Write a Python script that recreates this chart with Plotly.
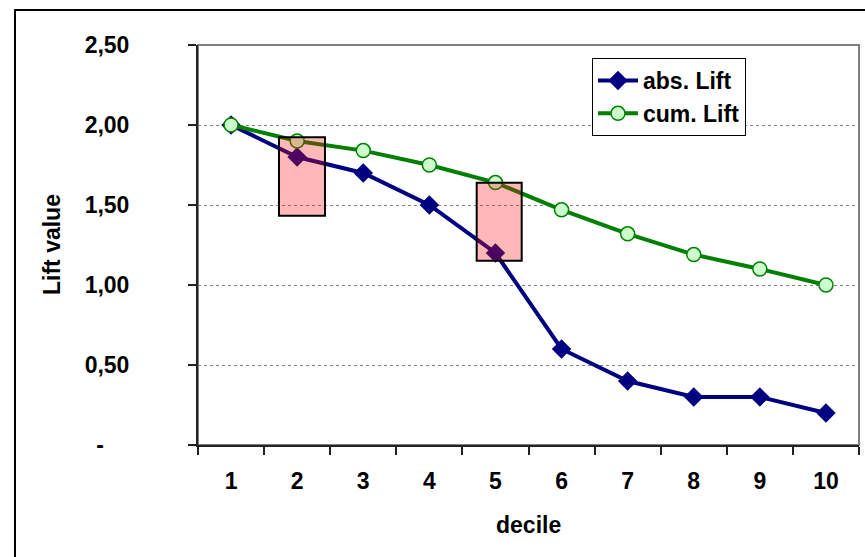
import plotly.graph_objects as go

deciles = ["1", "2", "3", "4", "5", "6", "7", "8", "9", "10"]
abs_lift = [2.00, 1.80, 1.70, 1.50, 1.20, 0.60, 0.40, 0.30, 0.30, 0.20]
cum_lift = [2.00, 1.90, 1.84, 1.75, 1.64, 1.47, 1.32, 1.19, 1.10, 1.00]
y_tickvals = [0, 0.5, 1.0, 1.5, 2.0, 2.5]
y_ticktext = ["-\u00a0\u00a0\u00a0\u00a0", "0,50", "1,00", "1,50", "2,00", "2,50"]

# highlight boxes (category-index x range, value y range)
box_x0 = [0.725, 3.716]
box_x1 = [1.421, 4.397]
box_y0 = [1.433, 1.152]
box_y1 = [1.923, 1.639]

FONT = "Arial, Liberation Sans, sans-serif"
FS = 23

fig = go.Figure()
fig.add_trace(go.Scatter(
    x=deciles, y=abs_lift, name="abs. Lift", mode="lines+markers",
    line=dict(color="#000080", width=4),
    marker=dict(symbol="diamond", size=15, color="#000080"),
))
fig.add_trace(go.Scatter(
    x=deciles, y=cum_lift, name="cum. Lift", mode="lines+markers",
    line=dict(color="#008000", width=4),
    marker=dict(symbol="circle", size=14, color="#CCFFCC",
                line=dict(color="#008000", width=1.5)),
))

shapes = []
# plot area border (grey)
shapes.append(dict(type="rect", xref="paper", yref="paper", x0=0, x1=1, y0=0, y1=1,
                   line=dict(color="#808080", width=2), layer="below"))
# outer chart border
shapes.append(dict(type="rect", xref="paper", yref="paper",
                   x0=(15 - 198) / 661, x1=(875 - 198) / 661,
                   y0=(445 - 570) / 400, y1=(445 - 10) / 400,
                   line=dict(color="#000000", width=2), layer="below"))
for a, b, c, d in zip(box_x0, box_x1, box_y0, box_y1):
    shapes.append(dict(type="rect", xref="x", yref="y", x0=a, x1=b, y0=c, y1=d,
                       fillcolor="rgba(255,20,20,0.3)",
                       line=dict(color="#000000", width=2), layer="above"))

fig.update_layout(
    width=865, height=557,
    margin=dict(l=198, r=6, t=45, b=112),
    paper_bgcolor="white", plot_bgcolor="white",
    font=dict(family=FONT, size=FS, color="#000000", weight="bold"),
    shapes=shapes,
    showlegend=True,
    legend=dict(x=(592 - 198) / 661, y=(445 - 58) / 400, xanchor="left", yanchor="top",
                bgcolor="white", bordercolor="#000000", borderwidth=1,
                font=dict(family=FONT, size=FS, weight="bold"),
                itemwidth=40, tracegroupgap=0),
    xaxis=dict(type="category", tickson="boundaries", ticks="outside", ticklen=8,
               tickwidth=1.5, tickcolor="#222222", showgrid=False,
               showline=True, linecolor="#222222", linewidth=2,
               range=[-0.5, 9.5], ticklabelstandoff=14, zeroline=False),
    yaxis=dict(range=[0, 2.5], tickvals=y_tickvals, ticktext=y_ticktext,
               ticks="outside", ticklen=8, tickwidth=1.5, tickcolor="#222222",
               showgrid=True, gridcolor="#808080", gridwidth=1, griddash="dot",
               showline=True, linecolor="#222222", linewidth=2,
               zeroline=False, ticklabelstandoff=54),
    annotations=[
        dict(text="decile", xref="paper", yref="paper", x=0.5, y=(445 - 525) / 400,
             showarrow=False, xanchor="center", yanchor="middle",
             font=dict(family=FONT, size=FS, weight="bold")),
        dict(text="Lift value", xref="paper", yref="paper", x=(52 - 198) / 661, y=0.5,
             showarrow=False, xanchor="center", yanchor="middle", textangle=-90,
             font=dict(family=FONT, size=FS, weight="bold")),
    ],
)

fig.write_html("out.html")
